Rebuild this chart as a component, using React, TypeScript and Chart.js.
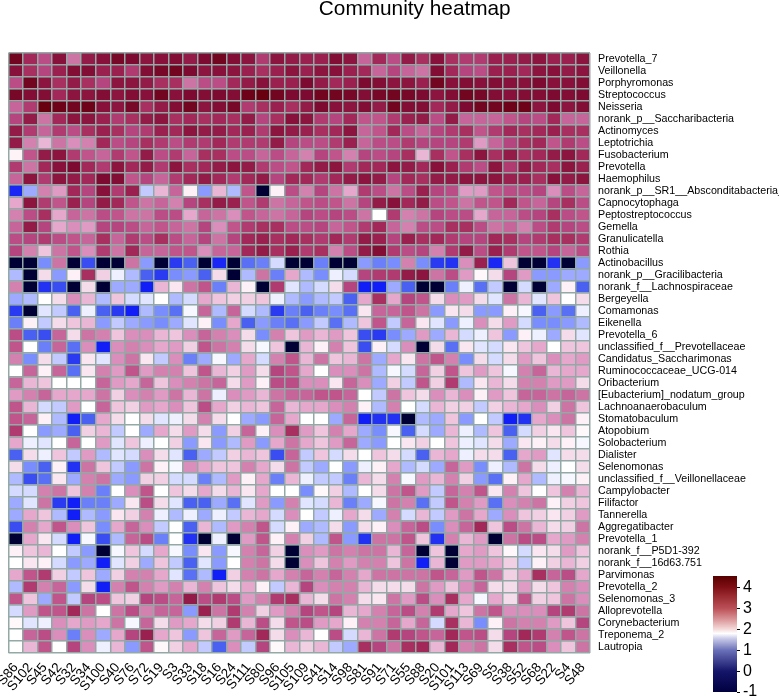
import React, { useEffect, useRef } from "react";
import { Chart, registerables } from "chart.js";

Chart.register(...registerables);

const chartTitle = "Community heatmap";

const sampleLabels = ["S86","S102","S45","S42","S32","S34","S100","S40","S76","S72","S19","S3","S33","S18","S16","S24","S111","S80","S96","S105","S109","S41","S14","S98","S81","S91","S71","S55","S88","S20","S101","S113","S69","S5","S38","S52","S68","S22","S4","S48"];

const taxonLabels = ["Prevotella_7","Veillonella","Porphyromonas","Streptococcus","Neisseria","norank_p__Saccharibacteria","Actinomyces","Leptotrichia","Fusobacterium","Prevotella","Haemophilus","norank_p__SR1__Absconditabacteria_","Capnocytophaga","Peptostreptococcus","Gemella","Granulicatella","Rothia","Actinobacillus","norank_p__Gracilibacteria","norank_f__Lachnospiraceae","Bergeyella","Comamonas","Eikenella","Prevotella_6","unclassified_f__Prevotellaceae","Candidatus_Saccharimonas","Ruminococcaceae_UCG-014","Oribacterium","[Eubacterium]_nodatum_group","Lachnoanaerobaculum","Stomatobaculum","Atopobium","Solobacterium","Dialister","Selenomonas","unclassified_f__Veillonellaceae","Campylobacter","Filifactor","Tannerella","Aggregatibacter","Prevotella_1","norank_f__P5D1-392","norank_f__16d63.751","Parvimonas","Prevotella_2","Selenomonas_3","Alloprevotella","Corynebacterium","Treponema_2","Lautropia"];

const cellValues: number[][] = [
[4.4,3.6,3.2,4.0,2.9,3.8,4.0,4.3,4.2,3.9,4.0,4.1,3.8,4.2,4.4,4.1,3.9,3.4,3.9,3.8,3.7,3.7,4.1,3.9,3.0,3.6,3.2,3.8,3.5,4.0,3.5,3.4,3.4,3.7,3.7,3.8,3.9,3.7,3.7,3.9],
[4.0,3.5,3.3,3.7,4.1,4.1,3.7,3.7,3.4,4.1,4.3,4.4,4.2,3.9,4.0,3.9,3.7,3.5,3.7,3.9,3.7,3.9,4.0,3.7,3.6,3.0,3.3,3.0,2.9,4.1,3.6,3.3,3.2,3.7,3.7,3.6,3.9,4.0,3.8,3.9],
[3.2,4.4,3.9,3.5,3.8,3.5,3.3,3.9,3.9,3.8,3.5,3.5,2.9,3.2,3.2,3.6,3.8,4.0,3.7,3.7,4.2,3.8,3.6,3.7,4.2,4.1,3.9,3.9,3.7,4.4,4.0,4.1,4.0,4.1,4.0,4.0,4.2,4.0,4.0,4.1],
[4.3,4.1,4.1,3.6,3.9,3.9,4.1,3.9,4.1,4.0,4.4,4.0,4.2,4.1,4.2,4.1,4.5,4.6,4.4,4.2,4.2,4.4,4.4,4.3,4.1,4.3,4.4,4.3,4.2,3.9,4.1,4.4,4.3,4.1,4.0,4.1,4.1,4.2,4.1,4.2],
[3.0,3.4,4.6,4.5,4.4,4.5,4.0,3.9,4.3,3.5,3.8,4.1,4.4,3.9,4.1,4.3,3.4,3.5,3.7,3.5,3.8,4.2,4.0,3.9,4.1,3.8,4.4,4.1,4.1,3.6,3.8,4.2,4.4,4.4,4.5,4.5,3.9,4.2,3.9,4.1],
[3.3,3.8,2.9,3.6,3.9,3.9,3.7,3.4,3.5,3.8,3.9,3.5,3.6,3.5,3.6,3.5,3.8,3.3,3.5,4.0,3.9,3.4,3.3,3.6,3.1,3.1,3.4,3.7,3.8,3.2,3.8,3.0,3.0,3.0,3.1,3.3,3.2,3.6,3.0,3.0],
[3.8,3.4,3.0,3.4,3.2,3.5,3.7,3.5,3.3,3.4,3.7,3.6,3.9,3.8,3.8,3.6,3.7,3.4,3.9,3.8,3.7,3.5,3.6,3.9,3.0,3.1,3.6,3.2,3.0,3.3,3.4,3.5,3.1,3.4,3.6,3.5,3.6,3.7,3.5,3.5],
[3.8,2.8,2.4,2.9,2.7,2.8,3.6,3.2,3.3,3.5,3.4,3.2,3.4,3.4,3.6,3.4,3.4,3.4,3.8,3.3,3.2,3.2,3.4,3.7,3.0,3.2,3.2,3.4,3.3,3.3,3.3,3.4,2.6,3.0,3.3,3.5,3.6,3.1,3.4,3.2],
[1.85,3.1,3.8,3.9,3.4,3.1,3.0,3.4,3.1,3.8,3.2,3.4,3.0,3.5,3.5,3.2,3.2,3.0,3.2,3.0,2.8,3.3,3.1,2.8,3.3,3.2,3.3,3.5,2.4,3.5,3.1,3.5,3.9,3.5,3.8,3.5,3.6,3.8,3.9,3.6],
[3.4,2.9,3.6,4.0,4.2,3.6,3.4,3.9,3.6,3.8,3.4,3.9,3.5,3.6,3.8,3.9,3.8,3.4,3.2,3.1,3.6,3.8,3.9,3.4,3.6,3.6,3.9,3.8,3.6,4.0,3.7,3.4,3.2,3.9,3.4,3.8,3.6,3.5,3.9,3.7],
[3.0,3.9,3.4,3.9,3.8,3.6,4.2,4.1,3.1,3.3,3.0,3.4,3.6,3.8,3.6,3.4,3.6,3.8,3.3,3.6,3.6,3.4,3.6,3.8,3.9,3.8,3.3,3.6,3.5,3.8,3.8,3.9,3.9,3.9,3.7,3.7,3.5,4.0,3.8,3.9],
[0.1,1.0,2.8,2.6,3.6,3.3,4.0,3.4,3.7,1.2,2.4,3.0,1.9,0.9,2.4,1.1,3.1,-0.9,1.9,3.2,2.8,3.3,2.9,2.5,3.4,3.2,2.9,3.2,3.7,3.3,3.2,2.6,2.6,3.1,3.2,3.2,3.3,2.7,3.2,3.0],
[2.5,3.9,3.4,3.1,3.7,3.3,3.8,3.6,3.1,2.9,3.0,2.8,3.3,3.5,3.8,3.7,3.1,3.4,2.9,3.0,3.1,3.2,3.1,2.9,3.3,3.8,4.0,3.6,3.8,3.2,3.1,2.9,3.1,3.1,3.6,3.1,3.0,3.3,3.5,3.2],
[2.8,3.2,3.5,2.5,3.0,2.9,3.2,3.1,2.9,2.9,3.2,3.2,2.5,3.0,2.9,2.7,3.1,3.0,2.9,3.0,3.3,3.2,3.3,3.2,2.9,1.7,3.4,2.8,2.9,3.3,3.2,3.2,2.5,3.0,3.0,3.2,3.3,3.5,3.2,3.1],
[3.0,3.8,3.3,2.5,2.7,2.6,3.3,3.3,3.2,3.0,3.1,3.0,2.9,3.3,2.7,3.1,3.4,3.5,3.5,3.2,3.2,3.3,3.0,3.1,3.4,3.6,3.0,2.8,3.2,3.2,3.5,3.5,3.2,2.9,3.0,2.8,3.2,3.4,3.3,3.2],
[3.2,3.3,3.4,3.2,3.1,3.0,3.5,3.0,3.4,3.2,3.5,3.2,3.0,3.3,2.9,3.3,3.6,3.7,3.5,3.6,3.5,3.4,3.6,3.4,3.8,3.7,3.3,3.7,3.5,3.6,3.4,3.3,3.3,3.6,3.5,3.3,3.4,3.5,3.5,3.4],
[3.3,2.8,2.3,2.9,3.1,2.7,3.4,2.9,3.6,3.0,3.0,3.1,3.1,2.7,3.0,3.0,3.6,3.8,3.5,3.7,3.4,3.5,2.8,3.2,3.8,4.1,3.4,3.2,3.3,2.8,3.4,3.8,3.2,3.7,3.4,3.1,3.1,3.3,3.0,3.2],
[-0.9,-0.9,0.8,2.9,-0.9,0.4,-0.9,-0.9,2.9,0.9,-0.9,0.3,0.5,-0.9,0.1,-0.9,0.6,0.7,1.3,-0.9,-0.9,0.7,-0.9,-0.9,0.9,0.7,0.8,2.8,0.8,0.3,0.2,2.7,3.7,0.1,2.3,-0.9,-0.9,0.2,-0.9,0.9],
[1.1,-0.9,2.1,0.9,1.9,3.5,2.2,1.5,1.1,0.5,0.3,0.8,0.9,0.5,2.1,-0.9,1.1,2.9,0.7,2.5,1.1,0.8,1.5,1.3,3.3,3.4,3.4,3.8,3.9,2.9,3.2,2.6,1.8,2.1,3.3,2.6,0.9,0.9,1.0,1.0],
[2.8,-0.9,0.2,0.4,-0.9,2.1,-0.9,1.0,1.0,0.0,2.4,2.0,2.9,3.1,0.7,2.4,1.9,-0.9,3.4,1.4,1.1,1.3,2.1,3.3,0.0,0.0,1.0,0.5,-0.9,-0.9,0.7,1.5,0.6,1.2,-0.9,1.3,-0.9,1.0,1.9,0.5],
[1.0,1.1,1.7,2.1,2.7,2.4,1.1,2.3,1.3,1.4,1.7,1.1,1.3,2.5,2.3,2.2,2.2,2.3,1.5,1.1,0.9,1.1,1.2,0.5,2.5,3.5,2.5,3.3,3.1,2.1,2.7,2.6,2.1,1.4,2.9,2.4,1.4,2.3,1.7,2.1],
[0.3,-0.9,1.4,1.2,0.5,1.5,0.5,0.3,0.0,1.1,0.8,0.6,1.6,3.0,1.1,3.0,1.3,1.1,0.3,0.7,0.5,0.7,0.8,0.6,2.0,3.0,3.0,3.1,2.9,0.9,2.0,2.1,0.9,0.9,1.9,1.6,0.5,0.9,0.6,1.5],
[0.7,1.9,1.2,2.1,2.3,2.4,0.9,1.2,1.0,0.9,0.8,1.0,1.4,1.9,0.8,2.5,0.5,0.9,0.7,0.6,0.9,1.2,0.6,1.1,2.3,3.1,1.2,3.0,2.0,1.4,0.9,1.5,2.7,2.1,2.6,1.3,0.8,0.8,0.9,1.1],
[3.2,0.5,0.4,3.0,2.1,2.9,2.8,2.3,2.7,2.7,2.4,2.3,2.7,3.0,2.8,2.7,2.1,0.8,2.8,2.3,2.6,2.4,2.6,2.3,0.4,0.3,0.8,1.0,2.6,1.0,2.4,1.3,1.5,2.3,0.9,1.9,1.5,1.0,2.1,1.4],
[3.1,1.7,0.7,3.0,0.6,2.7,0.0,2.7,2.8,2.7,2.5,2.6,2.2,3.1,2.9,2.8,2.1,1.6,2.3,-0.9,2.4,1.9,2.8,2.3,0.4,1.9,1.3,2.7,-0.9,2.1,0.6,2.0,1.4,1.3,2.0,2.3,2.5,1.7,2.3,2.3],
[2.8,0.8,2.1,1.2,0.3,2.0,1.4,2.7,2.9,2.0,1.2,2.7,0.7,1.0,1.6,1.0,2.5,1.3,2.8,3.1,2.4,2.9,2.3,2.4,2.9,1.0,2.5,2.0,2.9,3.1,2.8,0.8,2.1,1.3,2.1,2.6,2.3,2.7,2.5,2.6],
[1.7,3.0,1.9,3.0,0.6,2.0,2.8,2.6,3.1,2.6,2.8,2.8,2.3,3.1,2.4,2.2,2.6,2.1,3.3,3.1,2.5,1.7,2.7,2.7,2.9,1.1,1.6,1.3,3.0,2.2,3.1,2.3,2.6,2.3,1.6,2.8,3.0,2.4,2.5,2.5],
[3.0,2.4,2.3,1.7,1.7,1.7,3.0,2.6,2.5,3.0,2.3,2.7,2.8,2.9,3.0,2.1,2.6,1.9,3.2,3.2,2.7,2.7,2.0,3.0,2.7,1.0,2.2,1.2,3.1,2.2,3.4,1.1,2.0,2.4,2.1,2.8,2.8,2.6,2.6,2.1],
[2.6,2.8,3.0,2.5,2.5,2.5,2.9,2.2,2.7,2.8,2.6,2.9,2.4,2.9,1.5,2.7,2.6,2.4,2.9,3.0,3.0,3.1,3.1,3.0,1.7,1.2,2.9,2.3,2.1,2.7,2.4,2.7,1.9,2.6,2.3,3.0,3.0,2.9,3.0,2.9],
[3.1,2.4,1.3,1.2,2.6,1.7,3.0,2.3,2.2,2.6,2.5,2.7,2.3,3.2,2.5,2.2,2.4,2.3,3.0,2.4,2.5,2.5,2.7,2.8,1.9,1.1,2.8,1.7,1.3,2.4,2.2,2.2,1.2,2.2,2.4,2.5,2.7,2.2,2.9,2.3],
[3.1,3.0,1.9,1.1,0.0,0.5,2.5,2.1,1.7,2.1,1.4,1.5,2.1,2.8,2.1,1.7,1.0,0.9,3.0,2.5,1.7,1.7,1.0,3.0,0.0,0.2,0.2,-0.9,1.1,1.0,2.3,0.9,1.7,1.2,0.0,0.2,2.5,2.7,2.9,1.9],
[3.4,1.7,0.9,1.0,0.5,2.2,2.4,1.2,1.7,1.0,2.5,2.1,2.6,2.1,0.9,2.2,3.0,1.9,2.7,3.5,2.6,2.3,2.8,2.5,1.0,0.8,1.6,0.5,1.3,1.0,2.4,1.5,1.1,2.3,0.5,1.3,2.2,2.0,2.3,1.8],
[2.5,1.5,1.4,1.7,3.0,1.7,2.6,1.4,2.3,1.5,1.7,2.2,0.9,2.0,0.9,1.1,2.6,0.9,2.5,2.9,2.5,2.3,2.6,3.0,1.0,0.9,1.7,2.0,2.2,1.7,2.3,1.5,1.4,2.1,1.0,2.0,1.9,2.1,1.9,1.6],
[0.5,2.1,1.5,2.3,1.2,2.6,1.1,1.4,1.3,2.7,2.1,1.4,0.5,1.0,1.2,2.2,2.4,2.3,0.4,3.0,1.2,2.3,1.3,2.1,1.7,2.3,2.1,1.3,0.5,2.4,2.5,1.5,2.1,2.1,0.5,2.5,2.6,1.4,2.1,2.1],
[2.1,0.8,0.5,1.9,0.2,2.9,2.3,1.2,0.9,2.9,1.9,1.6,2.7,2.5,2.3,2.3,2.8,2.5,2.1,2.9,1.2,1.0,1.7,0.9,1.5,1.9,2.5,1.1,1.3,1.0,3.0,2.6,0.8,1.5,1.1,2.9,2.1,1.5,1.7,2.1],
[1.1,0.4,0.6,2.0,1.0,2.8,2.9,1.0,0.9,2.2,2.2,1.3,1.3,0.7,1.1,2.6,1.9,2.5,0.7,2.4,1.5,1.2,1.2,0.7,2.4,2.1,2.8,1.6,2.6,2.4,2.8,2.2,0.9,0.6,1.9,2.5,1.1,1.5,1.6,1.9],
[1.3,1.3,2.8,2.9,2.3,2.8,0.7,1.7,2.7,3.1,1.7,2.3,2.1,2.5,2.1,2.4,2.0,2.5,1.7,1.7,0.8,1.8,2.2,1.1,1.7,2.1,2.9,3.1,2.6,1.2,3.0,2.8,3.1,2.0,2.8,2.3,1.7,2.3,2.8,2.4],
[1.0,1.4,2.9,0.3,0.0,0.7,0.7,1.0,2.0,3.2,2.1,1.4,0.5,0.5,1.0,0.6,1.4,2.6,0.9,2.8,1.4,1.3,2.4,0.7,1.0,1.6,2.9,2.8,0.6,1.2,3.1,2.8,2.6,0.6,2.7,2.8,2.9,1.9,2.2,2.3],
[1.0,2.5,2.3,1.1,0.0,1.1,0.9,2.0,2.2,2.8,1.5,1.1,1.5,1.0,1.5,1.2,2.4,2.5,1.3,2.7,1.7,1.2,1.5,2.5,2.1,1.0,2.8,1.3,2.4,1.2,2.6,2.9,2.5,1.0,2.7,2.3,2.2,2.0,2.2,2.6],
[0.4,2.8,2.5,3.1,2.7,2.3,0.8,2.5,3.0,2.7,1.2,1.7,0.5,2.4,1.1,2.6,2.8,3.1,1.3,1.9,1.0,1.1,2.1,0.9,2.1,1.9,2.7,3.0,3.2,0.8,2.7,3.0,3.6,2.3,3.2,2.9,2.4,2.1,2.2,2.9],
[-0.9,2.5,2.0,1.3,0.0,1.6,0.4,1.1,3.0,3.2,0.7,1.7,0.2,-0.9,1.5,-0.9,2.6,3.1,1.9,2.8,2.2,1.1,3.1,0.9,0.2,2.9,2.9,3.1,2.3,0.2,2.8,2.4,2.6,-0.9,2.9,3.2,3.2,2.5,2.6,2.8],
[1.9,2.3,2.4,1.7,1.2,0.9,-0.9,1.6,2.3,1.3,2.5,1.6,0.8,2.0,0.9,1.6,2.8,3.0,2.2,-0.9,2.7,2.6,2.9,2.8,2.9,2.9,2.4,3.0,-0.9,2.3,-0.9,2.5,2.6,2.3,1.8,1.3,2.0,2.1,2.6,2.3],
[1.7,2.0,1.9,1.3,0.9,1.0,0.0,1.4,2.2,1.0,2.3,1.2,0.5,1.4,0.9,1.7,2.8,2.9,2.1,-0.9,2.7,2.3,2.8,2.6,2.8,2.8,2.3,2.9,0.0,2.4,-0.9,2.6,2.6,2.5,2.2,1.2,1.9,2.2,2.4,2.2],
[2.5,3.1,3.4,2.2,1.2,2.3,1.0,2.2,2.8,2.8,2.5,1.4,0.6,1.1,0.0,2.2,2.8,2.9,2.5,2.8,3.0,2.8,3.0,2.8,2.5,2.9,2.9,2.9,2.9,3.1,3.0,2.6,3.1,2.9,2.2,2.5,3.5,3.0,3.2,2.5],
[1.1,3.4,2.8,3.0,0.9,2.1,0.0,2.8,3.1,2.8,2.6,2.8,2.4,2.8,2.3,2.1,2.5,1.9,1.2,2.4,3.3,2.7,2.8,2.8,2.4,2.1,2.1,2.1,2.9,2.6,2.3,2.7,3.0,2.1,2.1,2.6,2.1,2.3,2.8,2.7],
[3.1,2.3,1.0,3.1,1.2,3.3,3.2,2.3,2.2,3.3,3.2,3.0,3.8,3.2,3.4,3.2,2.6,2.8,3.4,3.5,2.4,2.1,2.9,2.8,2.1,2.0,2.9,2.6,3.2,2.7,3.5,2.5,1.6,2.5,2.1,3.1,2.2,2.3,2.9,2.7],
[1.3,2.6,3.1,3.1,3.6,2.9,1.7,2.9,3.2,2.8,3.0,3.0,0.9,3.7,2.9,3.4,2.8,2.2,2.6,2.8,3.3,3.1,3.3,2.4,2.5,2.8,3.0,3.2,2.8,3.4,2.5,2.3,2.9,3.1,2.7,2.7,2.7,3.3,3.4,2.9],
[1.8,1.4,1.5,2.7,2.5,2.6,2.5,2.9,1.6,3.0,2.1,2.6,2.5,2.1,2.2,3.4,2.4,3.2,2.1,3.1,3.2,2.6,2.5,1.9,2.8,2.8,3.0,2.5,3.0,1.3,3.5,2.4,0.8,1.9,2.9,2.8,2.8,2.6,2.3,3.3],
[1.7,3.0,3.2,2.7,0.7,2.7,1.0,2.5,3.3,3.7,2.5,2.3,0.9,2.3,3.0,2.6,3.0,3.6,2.1,2.7,2.4,1.7,3.2,1.3,2.4,2.9,3.4,3.3,3.1,3.0,3.6,3.1,3.2,2.1,3.3,3.6,3.4,2.8,3.1,2.9],
[1.7,2.4,3.1,1.7,3.3,2.7,1.5,2.4,0.9,3.1,1.8,2.2,2.5,1.2,0.5,2.7,1.2,3.3,1.8,2.4,2.2,2.4,1.2,1.0,3.5,3.3,2.9,3.5,3.6,2.4,3.6,2.8,2.9,2.1,3.5,3.1,3.2,2.7,2.3,2.9],
];

const colorbarRange = [-1, 4.56];
const colorbarTicks = [-1, 0, 1, 2, 3, 4];

const cellStops: [number, string][] = [
  [-1, "#000033"], [-0.6, "#00003c"], [-0.1, "#0a14f8"], [0.3, "#2a3af0"], [0.5, "#4a60f0"],
  [0.7, "#6a7ff8"], [0.9, "#8a9aff"], [1.1, "#b0baff"], [1.3, "#d5daff"], [1.5, "#eef0ff"],
  [1.7, "#ffffff"], [1.9, "#fdf0f6"], [2.1, "#f5dcea"], [2.3, "#efc4dd"], [2.5, "#e5a8cc"],
  [2.7, "#d98ebb"], [2.9, "#cc75a5"], [3.1, "#c0558c"], [3.3, "#b5457f"], [3.5, "#a83060"],
  [3.7, "#9a2050"], [3.9, "#8c1540"], [4.2, "#7d0a30"], [4.6, "#680010"],
];

const barStops: [number, string][] = [
  [0, "#000040"], [0.18, "#15156a"], [0.36, "#6a70b8"], [0.46, "#c8cae8"], [0.505, "#ffffff"],
  [0.54, "#f5dcdc"], [0.62, "#dc9a9c"], [0.72, "#bc5058"], [0.9, "#801015"], [1, "#560000"],
];

function hex(c: string) {
  return [1, 3, 5].map((i) => parseInt(c.slice(i, i + 2), 16));
}

function cellColor(v: number) {
  for (let i = 1; i < cellStops.length; i++) {
    if (v <= cellStops[i][0]) {
      const [v0, c0] = cellStops[i - 1];
      const [v1, c1] = cellStops[i];
      const t = (v - v0) / (v1 - v0);
      const a = hex(c0), b = hex(c1);
      return `rgb(${a.map((x, k) => Math.round(x + (b[k] - x) * t)).join(",")})`;
    }
  }
  return cellStops[cellStops.length - 1][1];
}

const shiftTitle = {
  id: "shiftTitle",
  afterLayout(chart: any) {
    if (chart.titleBlock) {
      chart.titleBlock.left += 42;
      chart.titleBlock.top -= 3;
    }
  },
};

const gridColor = "#93a9a6";

export default function App() {
  const mainRef = useRef<HTMLCanvasElement>(null);
  const barRef = useRef<HTMLCanvasElement>(null);

  useEffect(() => {
    const main = new Chart(mainRef.current!, {
      type: "bar",
      plugins: [shiftTitle],
      data: {
        labels: sampleLabels,
        datasets: cellValues.map((row, r) => ({
          label: taxonLabels[r],
          data: row.map(() => [r, r + 1]),
          backgroundColor: row.map(cellColor),
          borderWidth: 0,
          grouped: false,
          barPercentage: 1,
          categoryPercentage: 1,
        })) as any,
      },
      options: {
        responsive: false,
        animation: false,
        events: [],
        layout: { padding: { left: 8.5, right: 0, top: 0, bottom: 0 } },
        plugins: {
          legend: { display: false },
          tooltip: { enabled: false },
          title: {
            display: true,
            text: chartTitle,
            color: "#000",
            font: { family: "Liberation Sans", size: 20.8, weight: "normal" },
            padding: { top: 0, bottom: 28 },
          },
        },
        scales: {
          x: {
            grid: { display: true, offset: true, z: 1, color: gridColor, lineWidth: 1.5, drawTicks: false },
            border: { display: false },
            ticks: {
              autoSkip: false,
              minRotation: 50,
              maxRotation: 50,
              color: "#000",
              padding: 7,
              font: { family: "Liberation Sans", size: 13.5 },
            },
            afterFit(s: any) {
              s.height = 44;
              s.paddingLeft = 0;
              s.paddingRight = 0;
            },
          },
          y: {
            position: "right",
            reverse: true,
            min: 0,
            max: taxonLabels.length,
            grid: { display: false, drawTicks: false },
            border: { display: false },
            afterBuildTicks(s: any) {
              s.ticks = taxonLabels.map((_, i) => ({ value: i + 0.5 }));
            },
            ticks: {
              autoSkip: false,
              padding: 8,
              color: "#000",
              font: { family: "Liberation Sans", size: 10.7 },
              callback: (v: any) => taxonLabels[Math.round(Number(v) - 0.5)],
            },
            afterFit(s: any) {
              s.width = 189;
              s.paddingTop = 0;
              s.paddingBottom = 0;
            },
          },
          rowLines: {
            position: "right",
            reverse: true,
            min: 0,
            max: taxonLabels.length,
            grid: { display: true, z: 1, color: gridColor, lineWidth: 1.5, drawTicks: false },
            border: { display: false },
            afterBuildTicks(s: any) {
              s.ticks = Array.from({ length: taxonLabels.length + 1 }, (_, i) => ({ value: i }));
            },
            ticks: { display: false, autoSkip: false },
            afterFit(s: any) {
              s.width = 0;
              s.paddingTop = 0;
              s.paddingBottom = 0;
            },
          },
        },
      },
    } as any);

    const bar = new Chart(barRef.current!, {
      type: "bar",
      data: {
        labels: ["colour scale"],
        datasets: [
          {
            data: [colorbarRange],
            barPercentage: 1,
            categoryPercentage: 1,
            backgroundColor: (ctx: any) => {
              const area = ctx.chart.chartArea;
              if (!area) return "#888";
              const g = ctx.chart.ctx.createLinearGradient(0, area.bottom, 0, area.top);
              barStops.forEach(([p, c]) => g.addColorStop(p, c));
              return g;
            },
          },
        ] as any,
      },
      options: {
        responsive: false,
        animation: false,
        events: [],
        layout: { padding: { left: 13, right: 0, top: 10, bottom: 5 } },
        plugins: { legend: { display: false }, tooltip: { enabled: false } },
        scales: {
          x: { display: false },
          y: {
            position: "right",
            min: colorbarRange[0],
            max: colorbarRange[1],
            afterBuildTicks(s: any) {
              s.ticks = colorbarTicks.map((value) => ({ value }));
            },
            grid: { display: true, drawOnChartArea: false, drawTicks: true, tickLength: 3, color: "#000", lineWidth: 1 },
            border: { display: false },
            ticks: {
              autoSkip: false,
              padding: 3,
              color: "#000",
              font: { family: "Liberation Sans", size: 16 },
            },
            afterFit(s: any) {
              s.width = 42;
              s.paddingTop = 0;
              s.paddingBottom = 0;
            },
          },
        },
      },
    } as any);

    return () => {
      main.destroy();
      bar.destroy();
    };
  }, []);

  return (
    <div style={{ position: "absolute", left: 0, top: 0, width: 779, height: 697, background: "#fff", overflow: "hidden" }}>
      <canvas ref={mainRef} width={779} height={697} style={{ position: "absolute", left: 0, top: 0 }} />
      <canvas ref={barRef} width={79} height={131} style={{ position: "absolute", left: 700, top: 566 }} />
    </div>
  );
}
